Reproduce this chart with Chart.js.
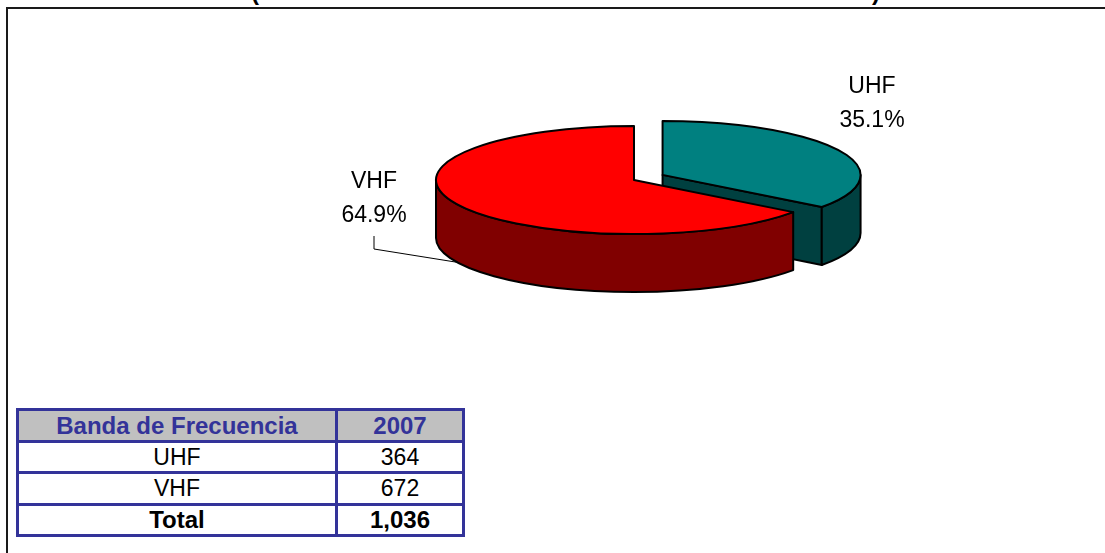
<!DOCTYPE html>
<html>
<head>
<meta charset="utf-8">
<script src="https://cdn.jsdelivr.net/npm/chart.js"></script>
<style>
  html, body { margin: 0; padding: 0; background: #fff; }
  #wrap { position: relative; width: 1105px; height: 553px; overflow: hidden; font-family: 'Liberation Sans', Arial, sans-serif; }
  #frame { position: absolute; left: 6px; top: 7px; right: -4px; bottom: -4px; border-left: 2px solid #1a1a1a; border-top: 2px solid #1a1a1a; }
  #chart { position: absolute; left: 0; top: 0; }
  .paren { position: absolute; top: -20px; font: bold 24px/24px 'Liberation Sans', Arial, sans-serif; color: #000; }
  #tabla { position: absolute; left: 16px; top: 408px; width: 449px; box-sizing: border-box; display: grid;
           grid-template-columns: 316px 124px; grid-template-rows: 29px 28px 29px 28px; gap: 3px; padding: 3px;
           background: #333399; font-size: 23px; }
  #tabla div { background: #fff; color: #000; display: flex; align-items: center; justify-content: center; }
  #tabla .head { background: #c0c0c0; color: #333399; font-weight: bold; font-size: 24px; }
  #tabla .tot { font-weight: bold; font-size: 24px; }
</style>
</head>
<body>
<div id="wrap">
  <div id="frame"></div>
  <span class="paren" style="left:251px">(</span>
  <span class="paren" style="left:872px">)</span>
  <canvas id="chart" width="1105" height="553"></canvas>
  <div id="tabla"></div>
</div>
<script>
// datos
const bandas = ['UHF', 'VHF'];
const estaciones = [364, 672];
const anio = '2007';
const encabezado = 'Banda de Frecuencia';
const etiquetaTotal = 'Total';

const total = estaciones.reduce((a, b) => a + b, 0);

// tabla de abajo
const tabla = document.getElementById('tabla');
const celda = (txt, cls) => {
    const d = document.createElement('div');
    d.textContent = txt;
    if (cls) d.className = cls;
    tabla.appendChild(d);
};
celda(encabezado, 'head');
celda(anio, 'head');
bandas.forEach((b, i) => {
    celda(b);
    celda(estaciones[i].toLocaleString('en-US'));
});
celda(etiquetaTotal, 'tot');
celda(total.toLocaleString('en-US'), 'tot');

// geometria de cada porcion en 3D, a partir de los arcos de Chart.js
function geometria(chart, opts) {
    const meta = chart.getDatasetMeta(0);
    const area = chart.chartArea;
    return meta.data.map(arc => {
        const p = arc.getProps(['x', 'startAngle', 'endAngle', 'outerRadius'], true);
        const rx = p.outerRadius;
        const ry = rx * opts.tilt;
        const mid = (p.startAngle + p.endAngle) / 2;
        const off = arc.options.offset || 0;
        return {
            s: p.startAngle, e: p.endAngle, mid, rx, ry,
            cx: p.x + off * Math.cos(mid),
            cy: area.top + ry + off * Math.sin(mid) * opts.tilt * 1.3
        };
    });
}

const pie3d = {
    id: 'pie3d',
    beforeDatasetsDraw(chart, args, opts) {
        const ctx = chart.ctx;
        const meta = chart.getDatasetMeta(0);
        const d = opts.depth;
        ctx.save();
        ctx.lineWidth = opts.lineWidth;
        ctx.strokeStyle = opts.edge;
        ctx.lineJoin = 'round';

        const cara = (g, t, color) => {
            ctx.beginPath();
            ctx.moveTo(g.cx, g.cy);
            ctx.lineTo(g.cx + g.rx * Math.cos(t), g.cy + g.ry * Math.sin(t));
            ctx.lineTo(g.cx + g.rx * Math.cos(t), g.cy + g.ry * Math.sin(t) + d);
            ctx.lineTo(g.cx, g.cy + d);
            ctx.closePath();
            ctx.fillStyle = color;
            ctx.fill();
            ctx.stroke();
        };

        geometria(chart, opts).forEach((g, i) => {
            const top = meta.data[i].options.backgroundColor;
            const side = opts.sideColors[i];
            // caras de corte visibles
            if (Math.cos(g.s) < -0.01) cara(g, g.s, side);
            if (Math.cos(g.e) > 0.01) cara(g, g.e, side);
            // pared exterior (solo la mitad delantera)
            for (let k = -1; k <= 2; k++) {
                const lo = Math.max(g.s, 2 * Math.PI * k);
                const hi = Math.min(g.e, 2 * Math.PI * k + Math.PI);
                if (hi <= lo) continue;
                ctx.beginPath();
                ctx.ellipse(g.cx, g.cy, g.rx, g.ry, 0, lo, hi, false);
                ctx.ellipse(g.cx, g.cy + d, g.rx, g.ry, 0, hi, lo, true);
                ctx.closePath();
                ctx.fillStyle = side;
                ctx.fill();
                ctx.stroke();
            }
            // tapa
            ctx.beginPath();
            ctx.moveTo(g.cx, g.cy);
            ctx.ellipse(g.cx, g.cy, g.rx, g.ry, 0, g.s, g.e, false);
            ctx.closePath();
            ctx.fillStyle = top;
            ctx.fill();
            ctx.stroke();
        });
        ctx.restore();
        return false;
    },
    afterDraw(chart, args, opts) {
        const ctx = chart.ctx;
        const vals = chart.data.datasets[0].data;
        const sum = vals.reduce((a, b) => a + b, 0);
        const geo = geometria(chart, opts);
        ctx.save();
        ctx.font = opts.font;
        ctx.fillStyle = '#000';
        ctx.textAlign = 'center';
        ctx.textBaseline = 'middle';
        chart.data.labels.forEach((lab, i) => {
            const [lx, ly] = opts.labelAt[i];
            ctx.fillText(lab, lx, ly - 17);
            ctx.fillText((vals[i] / sum * 100).toFixed(1) + '%', lx, ly + 17);
            if (opts.leader[i]) {
                const g = geo[i];
                ctx.beginPath();
                ctx.moveTo(lx, ly + 37);
                ctx.lineTo(lx, ly + 50);
                ctx.lineTo(g.cx + g.rx * Math.cos(g.mid), g.cy + opts.depth + g.ry * Math.sin(g.mid));
                ctx.strokeStyle = '#000';
                ctx.lineWidth = 1;
                ctx.stroke();
            }
        });
        ctx.restore();
    }
};

new Chart(document.getElementById('chart'), {
    type: 'pie',
    data: {
        labels: bandas,
        datasets: [{
            data: estaciones,
            backgroundColor: ['#008080', '#ff0000'],
            borderWidth: 0,
            offset: [32, 0]
        }]
    },
    options: {
        responsive: false,
        animation: false,
        events: [],
        radius: 198,
        layout: { padding: { left: 436, right: 273, top: 126, bottom: 0 } },
        plugins: {
            legend: { display: false },
            tooltip: { enabled: false },
            pie3d: {
                tilt: 54 / 198,
                depth: 58,
                lineWidth: 2,
                edge: '#000',
                sideColors: ['#004040', '#800000'],
                font: '23px "Liberation Sans", Arial, sans-serif',
                labelAt: [[872, 104], [374, 199]],
                leader: [false, true]
            }
        }
    },
    plugins: [pie3d]
});
</script>
</body>
</html>
